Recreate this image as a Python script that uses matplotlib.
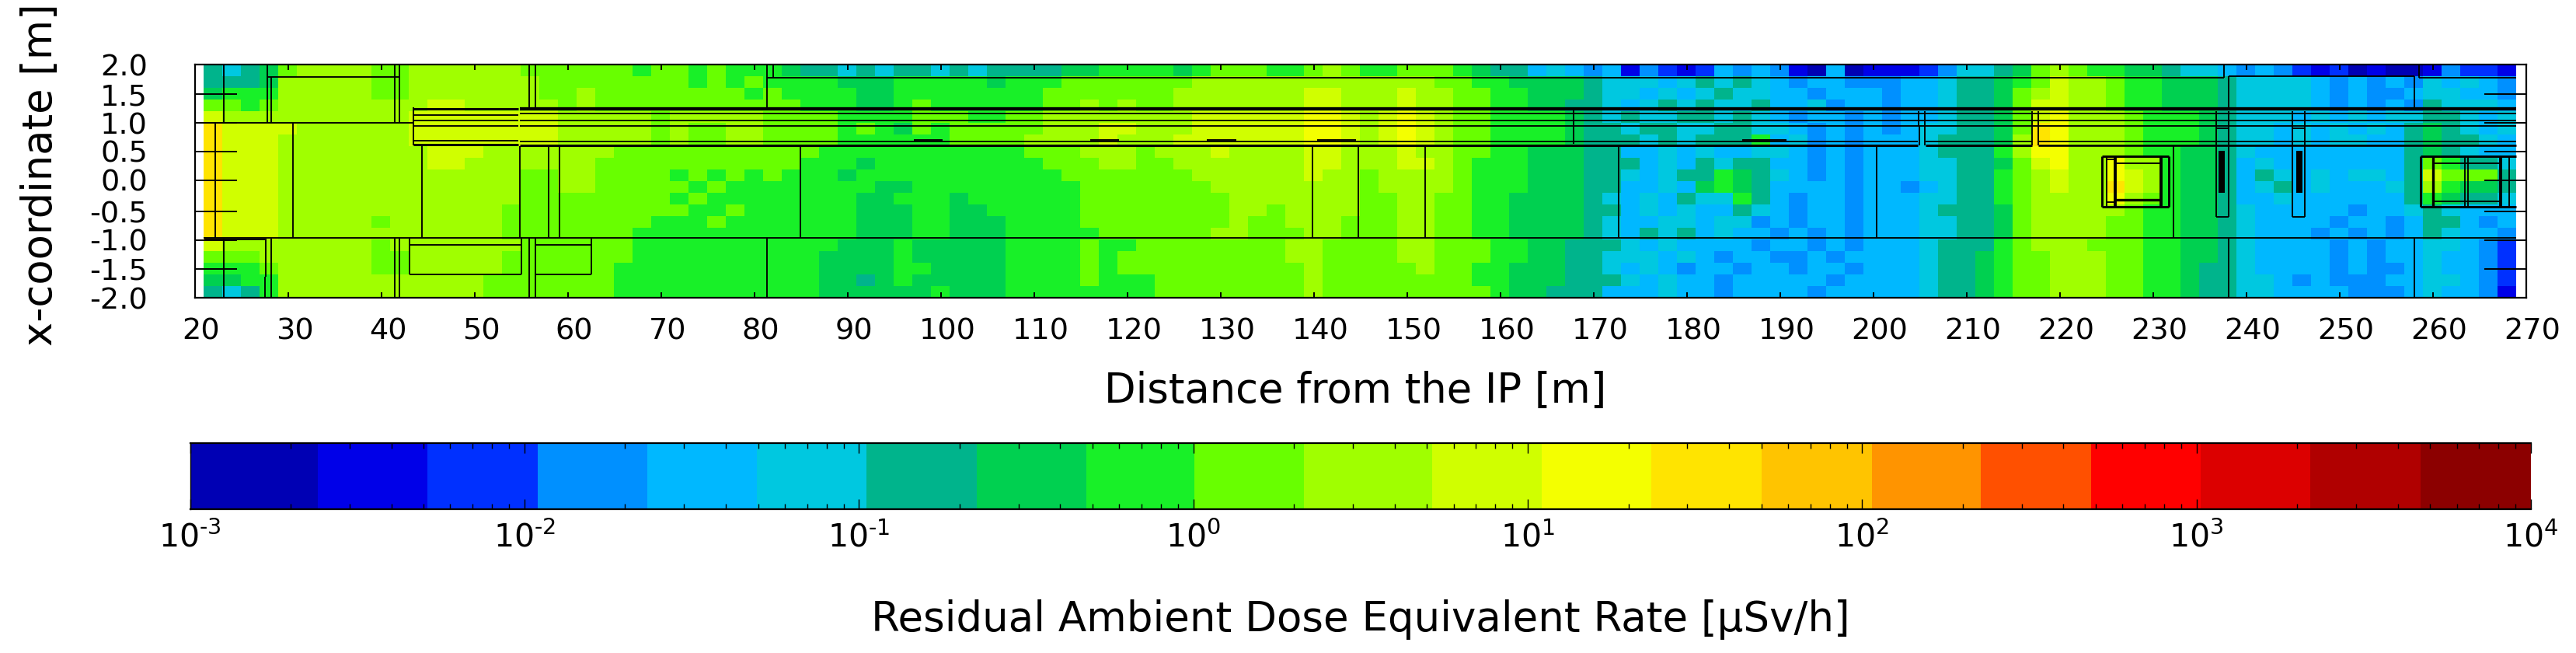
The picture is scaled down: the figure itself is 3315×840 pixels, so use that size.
import numpy as np
import matplotlib
matplotlib.use("Agg")
import matplotlib.pyplot as plt
from matplotlib.colors import ListedColormap, BoundaryNorm
from matplotlib.ticker import FixedLocator, NullFormatter
from matplotlib.transforms import ScaledTranslation
from matplotlib.patches import Rectangle

W, H, DPI = 3315, 840, 100

# ---- colour scale: level edges in log10(uSv/h) and their colours
LEVEL_EDGES = [-3, -2.619, -2.291, -1.961, -1.632, -1.304, -0.977, -0.648, -0.319, 0.003, 0.330,
               0.715, 1.042, 1.370, 1.700, 2.029, 2.355, 2.684, 3.013, 3.339, 3.671, 4]
LEVEL_COLORS = ['#0000b4', '#0000e8', '#0030ff', '#0090ff', '#00b8ff', '#00c8e0', '#00b48c', '#00d050',
                '#18f028', '#68ff00', '#a0ff00', '#d0ff00', '#f4ff00', '#ffe400', '#ffc400', '#ff9400',
                '#ff5000', '#ff0000', '#dc0000', '#b00000', '#8c0000']
LEVEL_KEYS = 'abcdefghijklmnopqrstu'

# ---- dose map: one letter per 2 m column, 0.2 m rows, top to bottom
DOSE_ROWS = [
 "gfghjkkkkj jkkkkkkjjj jjjijjijii ihggfgfggf gfgggghhii iihijjjiij kjiijjjihg gefedebdcb cededbaeab bbcdffghjk jiihhgffed edcbcabaab dccb",
 "ggghkkkkkj jkkkkkkkjj jjjjjjijij iiiihhhiii iihiiijjjj jjjkkkkkkk kkkkkkjjii hhhhgfffef gfgfedeedd deefgghijl kkjiihhhgf fffedededf efed",
 "hiiikkkkkj jkkkkkkkjj kjjjjjjjji jiiiihhiii iiiiijjjjj jjkkkkkkkl lkkklkkjji ihhhgffefe fgffeedeee deefgghjkl kkjiihhhgf fffededdef feed",
 "jjijkkkkkk kkllkkkkkj kjjjjjjjjj jjiiihhiji iiiiijjkjk jjkkkkkkkl lkkklkkjji ihhggfefgf gffgeefdee deefgghjll kkjiihhhgf fffedededg fffe",
 "lkkkkkkkkk kllllllllk kkkkjkkkkk jjjjiiiijj jiijjkkkkk kkkllllllm mlklmlkjji iiihgfgffg gfgfedeede deefgghjlm kkkjiiihgf ffefefeffg gfef",
 "nllllkkkkk kllllllllk kkkkjkjjkk jjjjijihji jjjjjkkkll kkkllllllm mlklmlkjji iiihggfggf fggffedede deffgghjnm kkkjiiihgf fefefefegh gfef",
 "nlllkkkkkk kllllllllk kkkkjkjjkk jjjjiiiiii jjjjkkkklk kklllllllm mlklmlkjji iiihgggfgf gggiefdede eefggghknm kkkjiiihgf fefeffeegh ggfe",
 "nlllkkkkkk kklllkkkkk kkjjjjjjjj jjjiiiiiii iiiijjjkkk jkkklkkkkl lkkklkkjji ihhhggeefe feeffedede eefgggikmm kkkjiihhgf eeeeeeeegh gfee",
 "nlllkkkkkk kkllkkkkkk kjjjjjjjjj jjiiihiiii iiiiijjjkk jjkkkkkkkl lkkkllkjii ihhhgggefe gfggeedede eeffgghjlm kkmkkihhge feeeeeeegj iggf",
 "nlllkkkkkk kkkkkkkjjk kjjjjijiji jiiihiiiii iiiiiijjjj jjjkkkkkkl kkjkkkkjii ihhhggfefg gihgfedede eeffggijkl kkmlkihhge gfefeffegl jjjg",
 "nlllkkkkkk kkkkkkkjjk kjjjjjijii iiiiiihhii iiiiiiijjj jjjjkkkkkk kkjkkkkjii ihhhggeefe hihgeeeede edefggijkl kknlkihhge fgefeeefgk ihhg",
 "nlllkkkkkk kkkkkkkjjj jjjjjijiii iiiiihhiii hiiiiiijjj jjjjjkkkkk kkjjkkjjii hhhhgfefeg ffigedeede eeffggijkk kkmkjihhge efeeeeeegi hggf",
 "nlllkkkkkk kkkkkkjjjj jjjjjjiiji iiiiihhhii hhiiiiijjj jjjjjkkjkk kkjjkkjjii hhhhggefef eegfedeede eefggghjkk kkkjiihhgf eeeeedeefg feee",
 "nlllkkkkkj kkkkkkjjjj jjjjiiijii iiiiihhhii hhhiiiijjj jjjjjkjjkk kjjjkkjjii hhhhgfeeff effdedeede eeffgghjkk kkjjiihhgf eeeedeedeg gede",
 "nlllkkkkkk kkkkkkjjjj jjjiiiiiii iiiiihhhii hhhiiiiijj jjjjkkjjjk kjjjkkjjii hhhhgfegfg efeededede eeffgghjkk kkjjiihhgf eeedededeg feed",
 "lkkkkkkkkj kkkkkkkjjj jjjiiiiiii iiiihhhihh hhhiiiijii jjjjjjjjkk jjjjkkjjji ihhgggfefe eeedeedede eefgggijkk kjjjiihhgf eeeededeef fedc",
 "jjjkkkkkkj jkkkkkjjjj jjjiiiiiii iiihhhhihh hhhiiiijij jjjjjjjjkk jjjjkkjjji ihhggfffef edeeddedee eefgghijjk kkjjiihhgf eeeededeef eedc",
 "iiijkkkkkj jkkkkkjjjj jjiiiiiiii iiihhhhiih hhhiiiijij jjjjjjjjjk jjjjjkjjii hhhggfefed eedeedeede eefgghijjk kkjjiihggf eeeededdef eedc",
 "hhiikkkkkk kkkkkjjjjj jjiiiiiiii iiihhghihh hhhiiiijii ijjjjjjjjk jjjjjjjjii hhhgggfefe edeeeeedee eefgghijjk kkjjiihggf fededddeef fedc",
 "gfgikkkkkk kkkkkjjjjj jjiiiiiiii iiihhhhhhi hhhiiiiiii ijjjjjjjjk jjjjjjjjji hhgggeeefe edeeeedeee eefgghijjk kkjjiihggf feeeedddef eedb",
]
DOSE_X_START, DOSE_X_STEP = 20.9, 2.0
DOSE_Y_TOP, DOSE_Y_STEP = 2.0, -0.2

# ---- tick labels
X_TICKS = list(range(20, 271, 10))
Y_TICK_LABELS = ['2.0', '1.5', '1.0', '0.5', '0.0', '-0.5', '-1.0', '-1.5', '-2.0']
Y_TICK_POS = [2.0, 1.499, 1.006, 0.514, 0.022, -0.514, -1.006, -1.499, -2.0]
CB_DECADES = [-3, -2, -1, 0, 1, 2, 3, 4]

# ---- tunnel outline: (y, x0, x1) horizontal, (x, y0, y1) vertical
THIN_H = [
 (1.794, 27.75, 41.92), (1.004, 20.9, 43.4), (-0.969, 20.9, 268.9), (-0.99, 20.97, 27.5),
 (-1.089, 43.03, 55.0), (-1.594, 43.03, 55.0), (-1.089, 56.5, 62.5), (-1.594, 56.5, 62.5),
 (1.785, 81.33, 237.6), (1.785, 258.5, 268.9), (1.803, 238.05, 257.97),
 (1.146, 43.4, 54.7), (1.04, 43.4, 54.7), (0.956, 43.4, 54.7), (0.703, 43.4, 54.7),
 (1.16, 54.8, 268.9), (1.04, 54.8, 268.9), (0.956, 54.8, 268.9),
 (0.69, 54.8, 204.78), (0.69, 205.6, 217.0), (0.69, 217.7, 268.9),
 (0.71, 97.1, 100.2), (0.71, 116.0, 119.1), (0.71, 128.5, 131.7), (0.71, 140.3, 144.5), (0.71, 185.9, 190.7),
 (0.317, 225.9, 230.8), (0.317, 260.0, 267.3), (-0.339, 260.0, 267.3), (-0.36, 224.9, 225.9),
 (0.38, 224.9, 225.9),
]
THICK_H = [
 (1.25, 43.4, 54.7, 1.9), (0.636, 43.4, 54.7, 1.9),
 (1.244, 54.8, 268.9, 2.9), (0.623, 54.8, 204.78, 2.0), (0.623, 205.6, 217.0, 2.0), (0.623, 217.7, 268.9, 1.7),
 (0.437, 224.5, 231.7, 1.9), (-0.428, 224.5, 231.7, 1.9), (-0.308, 225.9, 230.8, 2.2),
 (0.437, 258.66, 268.9, 1.9), (-0.428, 258.66, 268.9, 1.9),
]
THIN_V = [
 (23.08, 2.0, 1.0), (23.08, -0.98, -2.0), (22.14, 1.0, -0.97), (27.75, 2.0, 1.0), (28.17, 1.79, 1.0),
 (41.4, 2.0, 1.0), (41.92, 2.0, 1.0), (30.5, 1.0, -0.97), (27.55, -0.98, -1.63), (27.47, -1.63, -2.0),
 (28.17, -0.98, -2.0), (41.4, -0.98, -2.0), (41.92, -0.98, -2.0),
 (43.03, -0.98, -1.594), (55.0, -0.98, -1.594), (55.83, 2.0, 1.27), (56.5, 2.0, 1.27),
 (55.83, -0.97, -2.0), (56.5, -0.97, -2.0), (62.5, -0.98, -1.594), (43.4, 1.27, 0.62),
 (44.33, 0.61, -0.97), (54.83, 0.61, -0.97), (57.92, 0.61, -0.97), (59.08, 0.61, -0.97),
 (81.33, 2.0, 1.27), (81.33, -0.97, -2.0), (82.0, 2.0, 1.785), (84.9, 0.61, -0.97),
 (139.83, 0.61, -0.97), (144.75, 0.61, -0.97), (151.9, 0.61, -0.97), (172.67, 0.61, -0.97),
 (167.8, 1.22, 0.65), (200.33, 0.61, -0.97), (232.2, 0.61, -0.97),
 (204.8, 1.2, 0.956), (205.47, 1.2, 0.956), (204.92, 0.956, 0.62), (205.53, 0.956, 0.62),
 (217.0, 1.2, 0.956), (217.64, 1.2, 0.956), (217.0, 0.956, 0.62), (217.64, 0.956, 0.62),
 (237.6, 2.0, 1.785), (238.05, 1.803, 1.27), (238.05, -0.97, -2.0), (257.97, 1.803, 1.27), (257.97, -0.97, -2.0),
 (258.5, 2.0, 1.785),
 (236.75, 1.2, -0.61), (238.08, 1.2, -0.61), (244.9, 1.2, -0.61), (246.25, 1.2, -0.61),
 (225.0, 0.437, -0.428), (263.4, 0.437, -0.428), (263.75, 0.437, -0.428), (268.2, 0.437, -0.428),
]
THICK_V = [
 (224.5, 0.437, -0.428, 1.9), (231.7, 0.437, -0.428, 1.9), (225.9, 0.437, -0.428, 2.6), (230.8, 0.437, -0.428, 2.6),
 (258.66, 0.437, -0.428, 1.9), (259.97, 0.437, -0.428, 2.2), (267.28, 0.437, -0.428, 2.6),
]
H_CAPS = [(0.916, 236.75, 238.08), (-0.61, 236.75, 238.08), (0.916, 244.9, 246.25), (-0.61, 244.9, 246.25)]
SOLID_BOXES = [(237.02, -0.197, 0.64, 0.722), (245.36, -0.197, 0.64, 0.722)]

plt.rcParams['font.family'] = ['DejaVu Sans']
plt.rcParams['mathtext.default'] = 'regular'
fig = plt.figure(figsize=(W / DPI, H / DPI), dpi=DPI, facecolor='white')


def pixel_axes(left, right, top, bottom):
    return fig.add_axes([left / W, 1 - bottom / H, (right - left) / W, (bottom - top) / H])


keys = {k: i for i, k in enumerate(LEVEL_KEYS)}
grid = []
for row in DOSE_ROWS:
    groups = row.split()
    assert len(groups) == 13 and all(len(g) == 10 for g in groups[:12]) and len(groups[12]) == 4, row
    grid.append([keys[c] for c in ''.join(groups)])
grid = np.array(grid)
x_edges = DOSE_X_START + DOSE_X_STEP * np.arange(grid.shape[1] + 1)
y_edges = DOSE_Y_TOP + DOSE_Y_STEP * np.arange(grid.shape[0] + 1)

cmap = ListedColormap(LEVEL_COLORS)
norm = BoundaryNorm(np.arange(len(LEVEL_COLORS) + 1) - 0.5, cmap.N)

ax = pixel_axes(251, 3251, 83.5, 383.5)
ax.pcolormesh(x_edges, y_edges, grid, cmap=cmap, norm=norm, shading='flat', rasterized=True)
ax.set_xlim(20, 270)
ax.set_ylim(-2, 2)

LW = 1.35
for y, x0, x1 in THIN_H:
    ax.plot([x0, x1], [y, y], color='k', lw=LW, solid_capstyle='butt', zorder=3)
for y, x0, x1 in H_CAPS:
    ax.plot([x0, x1], [y, y], color='k', lw=LW, solid_capstyle='butt', zorder=3)
for y, x0, x1, w in THICK_H:
    ax.plot([x0, x1], [y, y], color='k', lw=w + 0.2, solid_capstyle='butt', zorder=3)
for x, y0, y1 in THIN_V:
    ax.plot([x, x], [y0, y1], color='k', lw=LW, solid_capstyle='butt', zorder=3)
for x, y0, y1, w in THICK_V:
    ax.plot([x, x], [y0, y1], color='k', lw=w + 0.2, solid_capstyle='butt', zorder=3)
for x, y, w, h in SOLID_BOXES:
    ax.add_patch(Rectangle((x, y), w, h, facecolor='k', edgecolor='none', zorder=3))

for s in ax.spines.values():
    s.set_linewidth(1.6)
    s.set_zorder(5)

ax.set_xticks(X_TICKS)
ax.set_xticklabels([str(t) for t in X_TICKS], fontsize=27.5)
ax.tick_params(axis='x', direction='in', length=5, width=1.4, top=True, bottom=True, pad=18)
ax.yaxis.set_major_locator(FixedLocator(Y_TICK_POS))
ax.set_yticklabels(Y_TICK_LABELS, fontsize=27.5)
ax.tick_params(axis='y', direction='in', length=39, width=1.4, left=True, right=True, pad=44)
shift = ScaledTranslation(8 / DPI, 0, fig.dpi_scale_trans)
for lab in ax.get_xticklabels():
    lab.set_transform(lab.get_transform() + shift)

cax = pixel_axes(244.6, 3257, 570, 655)
for i, c in enumerate(LEVEL_COLORS):
    cax.axvspan(LEVEL_EDGES[i], LEVEL_EDGES[i + 1], color=c, lw=0)
cax.set_xlim(-3, 4)
cax.set_ylim(0, 1)
cax.set_yticks([])
cax.set_xticks(CB_DECADES)
cax.set_xticklabels([r'$10^{\text{-}%d}$' % -d if d < 0 else r'$10^{%d}$' % d for d in CB_DECADES], fontsize=29.5)
minor = [d + np.log10(m) for d in CB_DECADES[:-1] for m in range(2, 10)]
cax.xaxis.set_minor_locator(FixedLocator(minor))
cax.xaxis.set_minor_formatter(NullFormatter())
cax.tick_params(axis='x', which='major', direction='in', length=9.5, width=1.0, top=True, bottom=True, pad=12)
cax.tick_params(axis='x', which='minor', direction='in', length=5, width=1.0, top=True, bottom=True)
cax.spines['top'].set_linewidth(1.6)
cax.spines['bottom'].set_linewidth(1.6)
cax.spines['left'].set_linewidth(1.0)
cax.spines['right'].set_visible(False)

fig.text(1744 / W, 1 - 518 / H, 'Distance from the IP [m]', fontsize=38, ha='center', va='baseline')
fig.text(1751 / W, 1 - 812 / H, 'Residual Ambient Dose Equivalent Rate [\u00b5Sv/h]', fontsize=38.2, ha='center', va='baseline')
fig.text(52 / W, 1 - 225 / H, 'x-coordinate [m]', fontsize=38, rotation=90, ha='center', va='center')

fig.savefig('out.png', dpi=DPI)
